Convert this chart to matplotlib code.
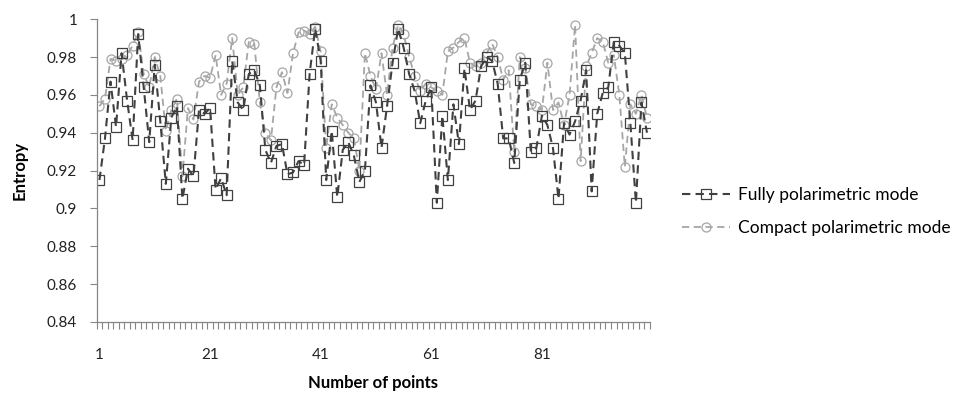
import matplotlib
matplotlib.use("Agg")
import matplotlib.pyplot as plt
from matplotlib.ticker import FixedLocator, NullFormatter

points = list(range(1, 101))

fully = [0.915, 0.937, 0.967, 0.943, 0.982, 0.957, 0.936, 0.992, 0.964, 0.935,
         0.976, 0.946, 0.913, 0.948, 0.954, 0.905, 0.921, 0.917, 0.952, 0.950,
         0.953, 0.910, 0.916, 0.907, 0.978, 0.956, 0.952, 0.971, 0.973, 0.965,
         0.931, 0.924, 0.933, 0.934, 0.918, 0.919, 0.925, 0.923, 0.971, 0.995,
         0.978, 0.915, 0.941, 0.906, 0.931, 0.935, 0.928, 0.914, 0.920, 0.965,
         0.956, 0.932, 0.954, 0.977, 0.995, 0.985, 0.971, 0.962, 0.945, 0.957,
         0.964, 0.903, 0.949, 0.915, 0.955, 0.934, 0.974, 0.952, 0.957, 0.975,
         0.980, 0.978, 0.966, 0.937, 0.937, 0.924, 0.968, 0.977, 0.930, 0.932,
         0.949, 0.944, 0.932, 0.905, 0.945, 0.939, 0.946, 0.957, 0.973, 0.909,
         0.950, 0.961, 0.964, 0.988, 0.986, 0.982, 0.945, 0.903, 0.956, 0.940]

compact = [0.954, 0.958, 0.979, 0.978, 0.979, 0.981, 0.986, 0.993, 0.971, 0.964,
           0.980, 0.970, 0.941, 0.952, 0.958, 0.917, 0.953, 0.947, 0.967, 0.970,
           0.969, 0.981, 0.960, 0.966, 0.990, 0.960, 0.964, 0.988, 0.987, 0.956,
           0.940, 0.936, 0.964, 0.972, 0.961, 0.982, 0.993, 0.994, 0.992, 0.996,
           0.983, 0.932, 0.955, 0.948, 0.944, 0.940, 0.937, 0.920, 0.982, 0.970,
           0.963, 0.982, 0.960, 0.985, 0.997, 0.992, 0.980, 0.970, 0.962, 0.966,
           0.964, 0.962, 0.960, 0.983, 0.985, 0.988, 0.990, 0.977, 0.975, 0.977,
           0.982, 0.987, 0.980, 0.968, 0.973, 0.930, 0.980, 0.974, 0.955, 0.954,
           0.952, 0.977, 0.952, 0.956, 0.944, 0.960, 0.997, 0.925, 0.975, 0.982,
           0.990, 0.988, 0.977, 0.981, 0.960, 0.922, 0.955, 0.950, 0.960, 0.948]

x_ticks = [1, 21, 41, 61, 81]
y_ticks = [0.84, 0.86, 0.88, 0.9, 0.92, 0.94, 0.96, 0.98, 1]
y_labels = ['0.84', '0.86', '0.88', '0.9', '0.92', '0.94', '0.96', '0.98', '1']

plt.rcParams['font.family'] = ['Lato', 'DejaVu Sans']

fig = plt.figure(figsize=(9.64, 3.99), dpi=100)
ax = fig.add_axes([0.1003, 0.193, 0.5737, 0.759])

dash = (0, (4, 2.5))
ax.plot(points, compact, linestyle=dash, color='#a6a6a6', linewidth=1.3,
        marker='o', markersize=6.5, markerfacecolor='none', markeredgecolor='#a6a6a6',
        markeredgewidth=0.9, label='Compact polarimetric mode')
ax.plot(points, fully, linestyle=dash, color='#404040', linewidth=1.5,
        marker='s', markersize=7.2, markerfacecolor='none', markeredgecolor='#404040',
        markeredgewidth=0.9, label='Fully polarimetric mode')

ax.set_xlim(0.5, 100.5)
ax.set_ylim(0.84, 1.0)
ax.set_yticks(y_ticks)
ax.set_yticklabels(y_labels)
ax.set_xticks(x_ticks)
ax.set_xticklabels([str(t) for t in x_ticks])
ax.xaxis.set_minor_locator(FixedLocator([p + 0.5 for p in range(0, 101)]))
ax.xaxis.set_minor_formatter(NullFormatter())
ax.tick_params(axis='x', which='major', length=0, pad=19, labelsize=11, colors='#222222')
ax.tick_params(axis='x', which='minor', length=5, color='#868686', width=0.8)
ax.tick_params(axis='y', length=5, color='#868686', width=0.8, labelsize=11,
               labelcolor='#222222', pad=9)

for side in ['top', 'right']:
    ax.spines[side].set_visible(False)
for side in ['left', 'bottom']:
    ax.spines[side].set_color('#868686')
    ax.spines[side].set_linewidth(0.9)

ax.set_xlabel('Number of points', fontsize=12, fontweight='bold', labelpad=9)
ax.set_ylabel('Entropy', fontsize=12, fontweight='bold', labelpad=14)

handles, labels = ax.get_legend_handles_labels()
fig.legend(handles[::-1], labels[::-1], loc='center left',
           bbox_to_anchor=(0.7075, 0.47), bbox_transform=fig.transFigure,
           frameon=False, fontsize=12.5, handlelength=2.75, handletextpad=0.45,
           labelspacing=1.0, borderpad=0, borderaxespad=0)

fig.savefig('out.png', dpi=100)
